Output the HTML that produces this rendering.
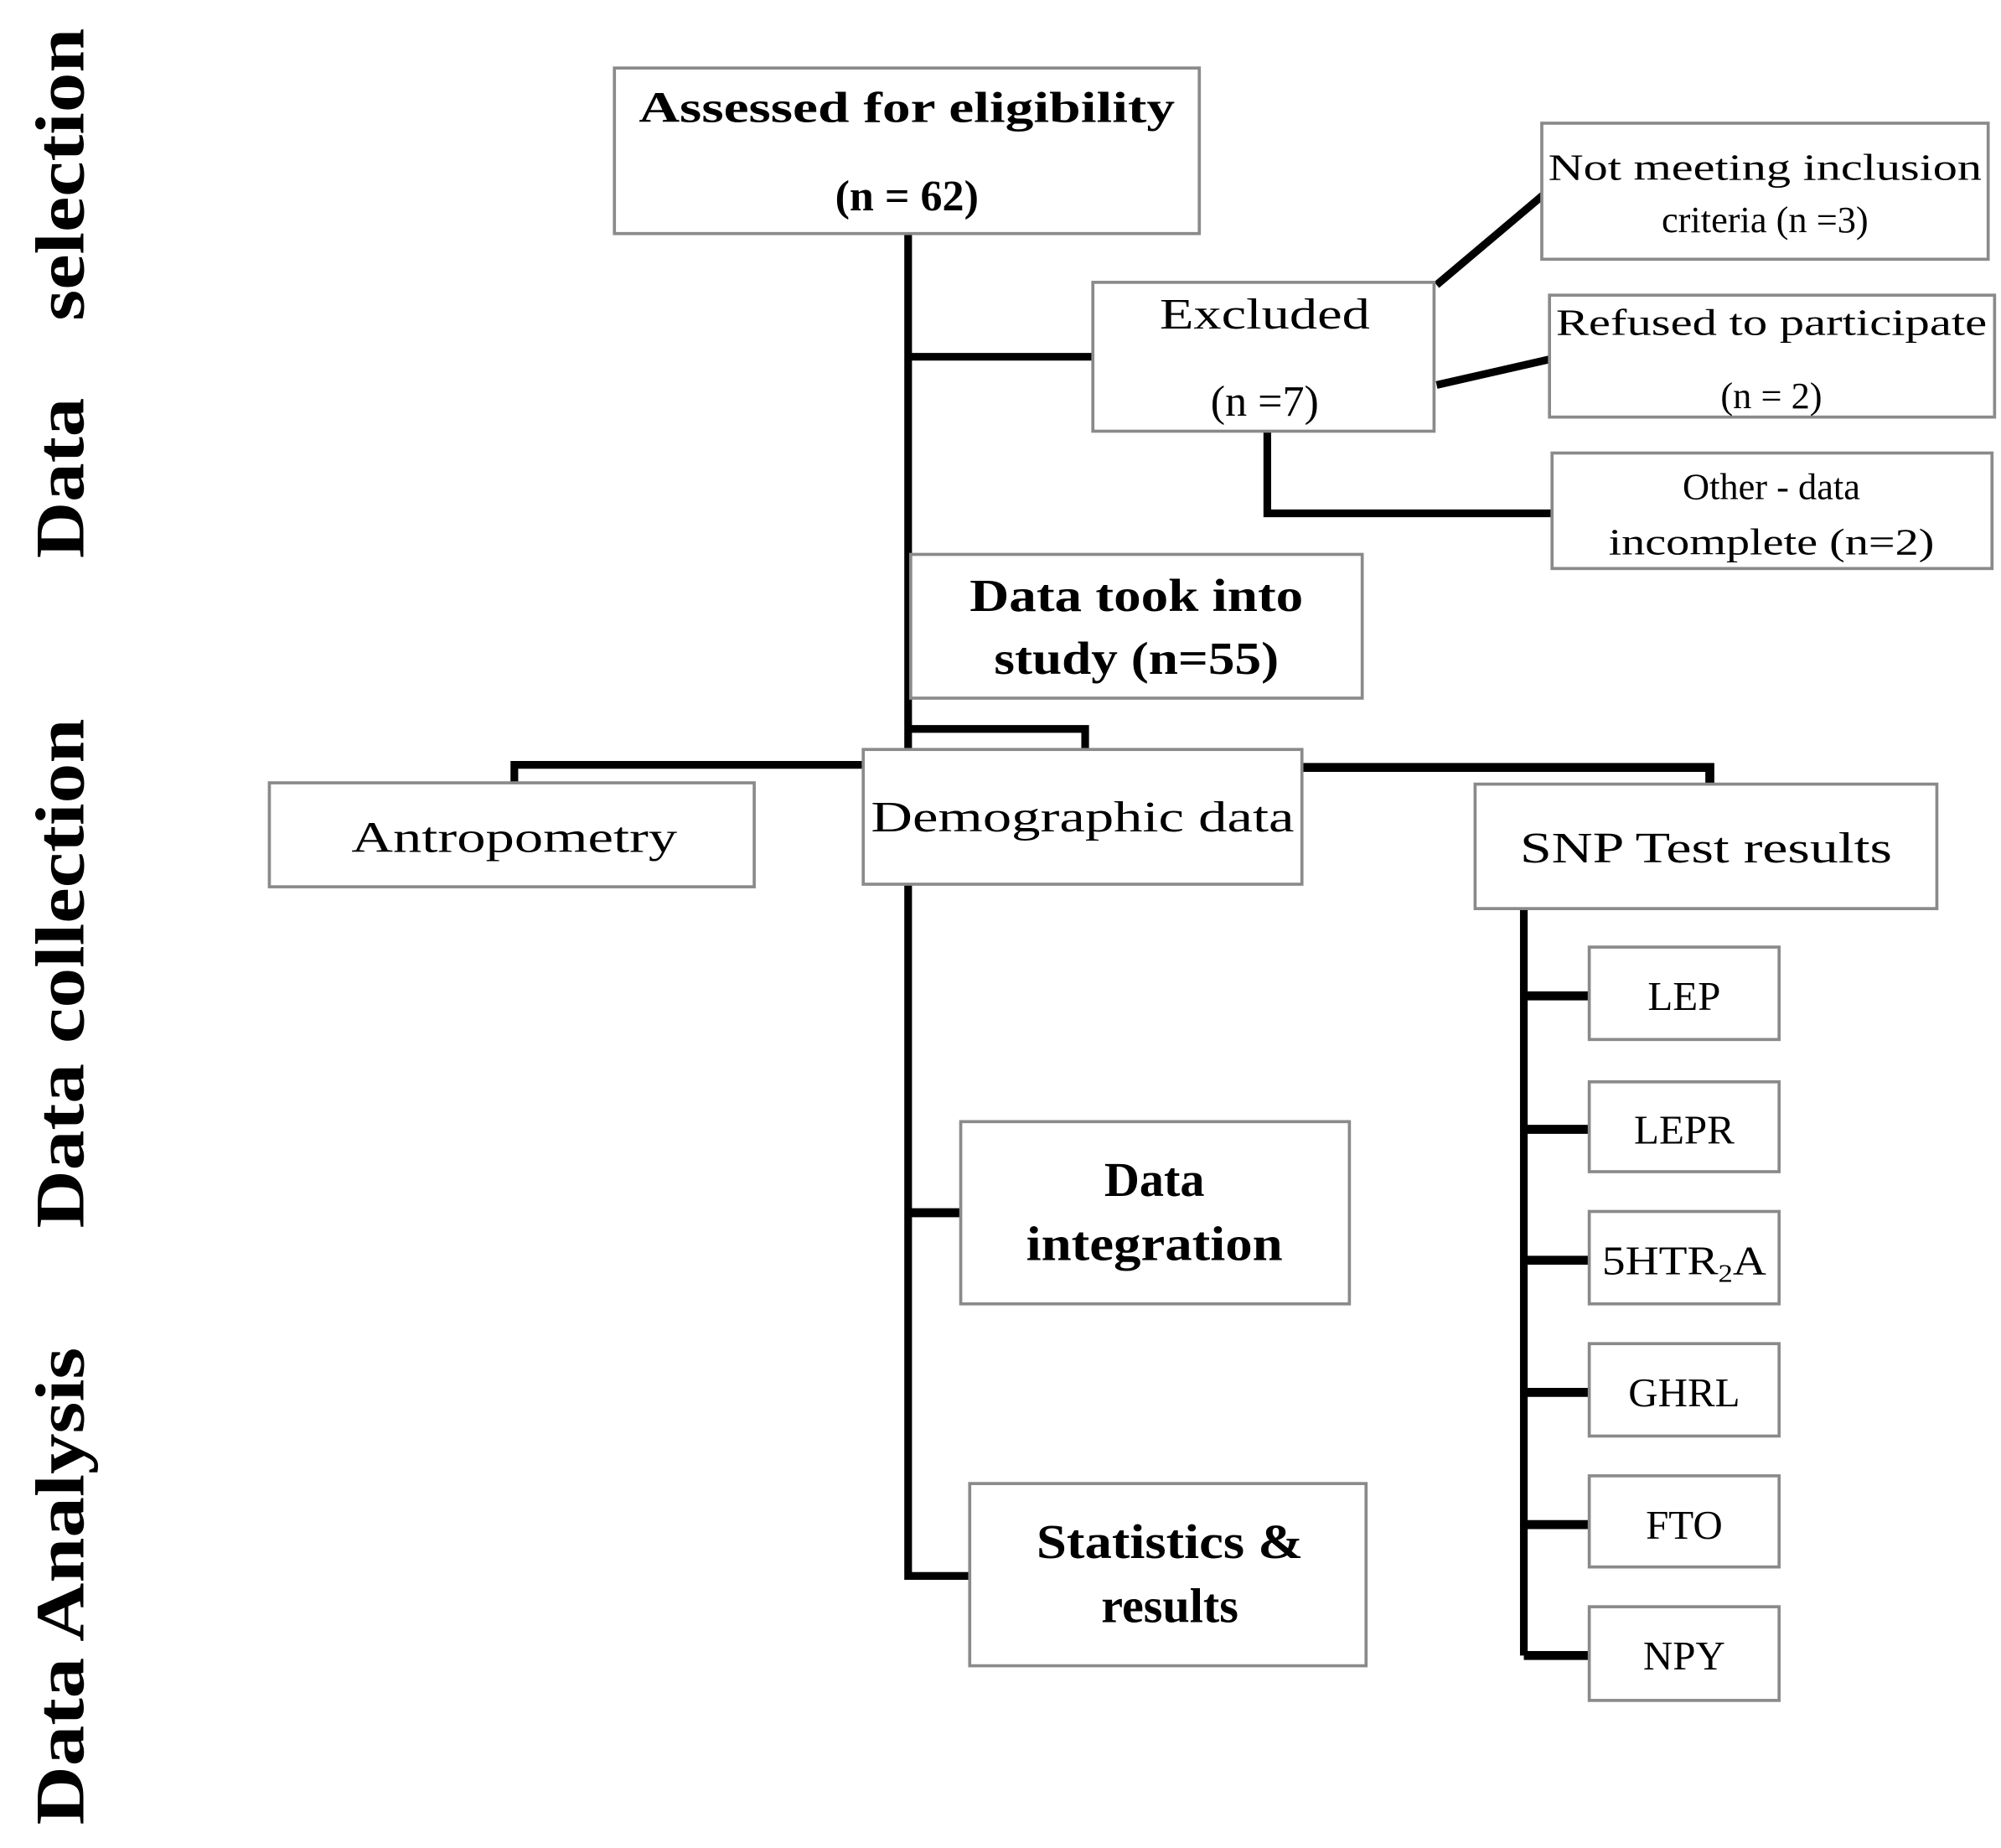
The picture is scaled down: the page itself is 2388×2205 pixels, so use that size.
<!DOCTYPE html>
<html><head><meta charset="utf-8"><style>
html,body{margin:0;padding:0;background:#fff;}
svg{display:block;}
text{font-family:"Liberation Serif",serif;fill:#000;}
.b{fill:#fff;stroke:#8a8a8a;stroke-width:2.4;}
.l{stroke:#000;fill:none;stroke-width:6;}
.t{font-size:34px;text-anchor:middle;}
.s{font-size:29px;text-anchor:middle;}
.g{font-size:32px;text-anchor:middle;}
.side{font-size:54px;font-weight:bold;}
</style></head><body>
<svg width="2388" height="2205" viewBox="0 0 1560 1440" preserveAspectRatio="none" xmlns="http://www.w3.org/2000/svg">
<text class="side" transform="translate(65,435) rotate(-90)" textLength="125" lengthAdjust="spacingAndGlyphs">Data</text>
<text class="side" transform="translate(65,250) rotate(-90)" textLength="228" lengthAdjust="spacingAndGlyphs">selection</text>
<text class="side" transform="translate(65,957) rotate(-90)" textLength="397" lengthAdjust="spacingAndGlyphs">Data collection</text>
<text class="side" transform="translate(65,1422) rotate(-90)" textLength="372" lengthAdjust="spacingAndGlyphs">Data Analysis</text>

<path class="l" d="M708,182 V1228 H756"/>
<path class="l" d="M708,278 H852"/>
<path class="l" d="M1120,222 L1203,152"/>
<path class="l" d="M1120,300 L1208,280"/>
<path class="l" d="M988,336 V400 H1210"/>
<path class="l" d="M708,568 H846 V584"/>
<path class="l" d="M673,596 H401 V610"/>
<path class="l" d="M1015,598 H1333 V611" style="stroke-width:7"/>
<path class="l" d="M708,945 H749" style="stroke-width:7"/>
<path class="l" d="M1188,708 V1290"/>
<path class="l" d="M1188,776 H1239 M1188,880 H1239 M1188,982 H1239 M1188,1085 H1239 M1188,1188 H1239 M1188,1290 H1239" style="stroke-width:7"/>

<rect class="b" x="479" y="53" width="456" height="129"/>
<text class="t" x="707" y="95" style="font-weight:bold" textLength="418" lengthAdjust="spacingAndGlyphs">Assessed for eligibility</text>
<text class="t" x="707" y="164" style="font-weight:bold">(n = 62)</text>

<rect class="b" x="852" y="220" width="266" height="116"/>
<text class="t" x="986" y="256" textLength="164" lengthAdjust="spacingAndGlyphs">Excluded</text>
<text class="t" x="986" y="324">(n =7)</text>

<rect class="b" x="1202" y="96" width="348" height="106"/>
<text class="s" x="1376" y="140" textLength="338" lengthAdjust="spacingAndGlyphs">Not meeting inclusion</text>
<text class="s" x="1376" y="181">criteria (n =3)</text>

<rect class="b" x="1208" y="230" width="347" height="95"/>
<text class="s" x="1381" y="261" textLength="336" lengthAdjust="spacingAndGlyphs">Refused to participate</text>
<text class="s" x="1381" y="318">(n = 2)</text>

<rect class="b" x="1210" y="353" width="343" height="90"/>
<text class="s" x="1381" y="389">Other - data</text>
<text class="s" x="1381" y="432" textLength="254" lengthAdjust="spacingAndGlyphs">incomplete (n=2)</text>

<rect class="b" x="710" y="432" width="352" height="112"/>
<text class="t" x="886" y="476" style="font-weight:bold;font-size:36px" textLength="260" lengthAdjust="spacingAndGlyphs">Data took into</text>
<text class="t" x="886" y="525" style="font-weight:bold;font-size:36px" textLength="222" lengthAdjust="spacingAndGlyphs">study (n=55)</text>

<rect class="b" x="673" y="584" width="342" height="105"/>
<text class="t" x="844" y="648" textLength="330" lengthAdjust="spacingAndGlyphs">Demographic data</text>

<rect class="b" x="210" y="610" width="378" height="81"/>
<text class="t" x="401" y="664" textLength="254" lengthAdjust="spacingAndGlyphs">Antropometry</text>

<rect class="b" x="1150" y="611" width="360" height="97"/>
<text class="t" x="1330" y="672" textLength="290" lengthAdjust="spacingAndGlyphs">SNP Test results</text>

<rect class="b" x="749" y="874" width="303" height="142"/>
<text class="t" x="900" y="932" style="font-weight:bold;font-size:38px">Data</text>
<text class="t" x="900" y="982" style="font-weight:bold;font-size:38px" textLength="200" lengthAdjust="spacingAndGlyphs">integration</text>

<rect class="b" x="756" y="1156" width="309" height="142"/>
<text class="t" x="912" y="1214" style="font-weight:bold;font-size:38px" textLength="208" lengthAdjust="spacingAndGlyphs">Statistics &amp;</text>
<text class="t" x="912" y="1264" style="font-weight:bold;font-size:38px">results</text>

<rect class="b" x="1239" y="738" width="148" height="72"/>
<text class="g" x="1313" y="787">LEP</text>
<rect class="b" x="1239" y="843" width="148" height="70"/>
<text class="g" x="1313" y="891">LEPR</text>
<rect class="b" x="1239" y="944" width="148" height="72"/>
<text class="g" x="1313" y="993" textLength="128" lengthAdjust="spacingAndGlyphs">5HTR<tspan font-size="20" dy="6">2</tspan><tspan dy="-6">A</tspan></text>
<rect class="b" x="1239" y="1047" width="148" height="72"/>
<text class="g" x="1313" y="1096">GHRL</text>
<rect class="b" x="1239" y="1150" width="148" height="71"/>
<text class="g" x="1313" y="1199">FTO</text>
<rect class="b" x="1239" y="1252" width="148" height="73"/>
<text class="g" x="1313" y="1301">NPY</text>
</svg>
</body></html>
